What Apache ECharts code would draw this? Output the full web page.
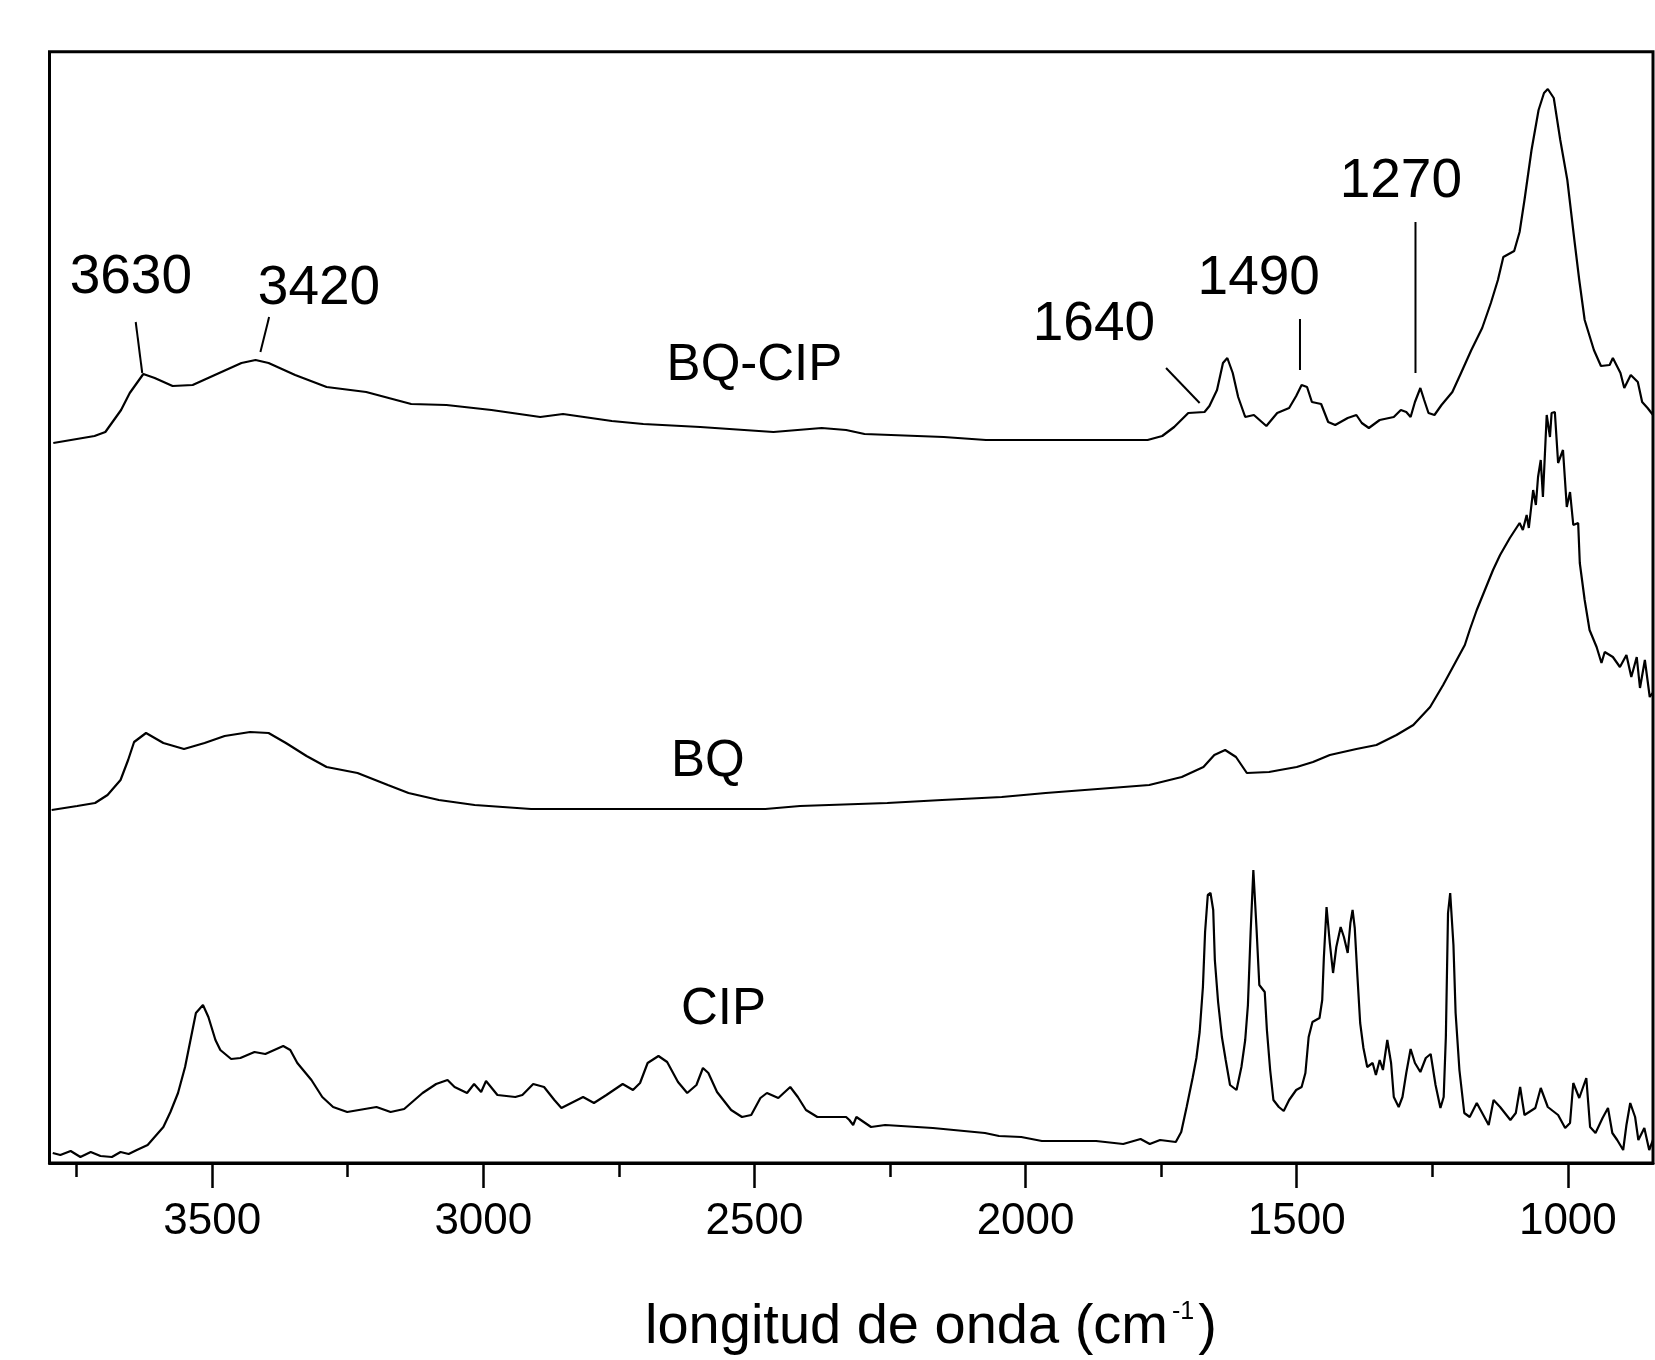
<!DOCTYPE html>
<html><head><meta charset="utf-8">
<script src="https://cdn.jsdelivr.net/npm/echarts@6/dist/echarts.min.js"></script>
<style>html,body{margin:0;padding:0;background:#fff}#c{width:1655px;height:1360px}</style>
</head><body><div id="c"></div>
<script>
// x: wavenumber (cm-1), y: relative absorbance (arbitrary units, curves offset)
const xMajorTicks = [3500, 3000, 2500, 2000, 1500, 1000];
const xMinorTicks = [3750, 3250, 2750, 2250, 1750, 1250];

const cip = [
[3794,0.010],[3780,0.008],[3761,0.012],[3743,0.006],[3724,0.011],[3706,0.007],[3685,0.006],[3669,0.011],[3654,0.009],[3639,0.013],
[3619,0.018],[3590,0.036],[3577,0.051],[3563,0.070],[3550,0.096],[3540,0.123],[3530,0.150],[3517,0.158],[3507,0.146],[3494,0.123],
[3485,0.113],[3465,0.104],[3448,0.105],[3422,0.111],[3402,0.109],[3369,0.117],[3356,0.113],[3343,0.100],[3317,0.083],[3297,0.066],
[3277,0.056],[3251,0.051],[3197,0.056],[3171,0.051],[3146,0.054],[3112,0.070],[3087,0.079],[3066,0.083],[3053,0.076],[3030,0.070],
[3017,0.079],[3004,0.071],[2995,0.082],[2974,0.068],[2941,0.066],[2928,0.068],[2908,0.079],[2888,0.076],[2869,0.063],[2856,0.055],
[2816,0.066],[2796,0.060],[2773,0.068],[2743,0.079],[2724,0.073],[2711,0.080],[2697,0.100],[2677,0.107],[2661,0.101],[2641,0.081],
[2624,0.070],[2607,0.078],[2595,0.095],[2585,0.090],[2569,0.071],[2543,0.053],[2523,0.046],[2506,0.048],[2489,0.065],[2477,0.070],
[2456,0.065],[2434,0.076],[2420,0.066],[2405,0.053],[2384,0.046],[2331,0.046],[2325,0.043],[2318,0.038],[2312,0.046],[2285,0.036],
[2259,0.038],[2171,0.035],[2075,0.030],[2049,0.027],[2008,0.026],[1970,0.022],[1870,0.022],[1820,0.019],[1788,0.024],[1771,0.019],
[1752,0.023],[1723,0.021],[1713,0.031],[1703,0.056],[1692,0.085],[1685,0.105],[1679,0.131],[1673,0.176],[1669,0.231],[1664,0.268],
[1659,0.270],[1654,0.253],[1651,0.203],[1645,0.161],[1638,0.126],[1631,0.103],[1623,0.078],[1611,0.073],[1602,0.096],[1595,0.123],
[1590,0.158],[1585,0.231],[1580,0.293],[1574,0.233],[1569,0.178],[1559,0.171],[1555,0.133],[1549,0.093],[1543,0.063],[1533,0.056],
[1524,0.052],[1514,0.063],[1501,0.073],[1491,0.076],[1484,0.090],[1478,0.126],[1471,0.141],[1458,0.145],[1453,0.163],[1450,0.205],
[1445,0.256],[1439,0.220],[1433,0.190],[1427,0.216],[1419,0.236],[1413,0.226],[1406,0.210],[1401,0.240],[1397,0.253],[1393,0.235],
[1388,0.186],[1383,0.140],[1377,0.115],[1370,0.096],[1360,0.100],[1354,0.088],[1347,0.103],[1341,0.093],[1333,0.123],[1326,0.100],
[1321,0.066],[1312,0.056],[1305,0.066],[1298,0.090],[1290,0.114],[1282,0.100],[1272,0.091],[1262,0.105],[1253,0.109],[1244,0.078],
[1235,0.055],[1229,0.066],[1225,0.126],[1221,0.250],[1217,0.270],[1211,0.218],[1207,0.150],[1200,0.093],[1191,0.050],[1181,0.046],
[1168,0.060],[1158,0.050],[1146,0.038],[1137,0.063],[1125,0.056],[1106,0.043],[1096,0.050],[1088,0.076],[1080,0.048],[1060,0.055],
[1050,0.075],[1037,0.056],[1018,0.048],[1005,0.035],[996,0.040],[990,0.080],[979,0.065],[966,0.085],[959,0.036],[949,0.030],
[936,0.045],[926,0.055],[918,0.030],[909,0.023],[898,0.013],[892,0.038],[885,0.060],[876,0.046],[870,0.023],[859,0.035],
[850,0.013],[843,0.023]
];

const bq = [
[3796,0.353],[3749,0.357],[3716,0.360],[3693,0.368],[3669,0.383],[3655,0.403],[3644,0.421],[3622,0.430],[3590,0.420],[3552,0.414],
[3514,0.420],[3477,0.427],[3430,0.431],[3396,0.430],[3364,0.420],[3326,0.407],[3289,0.396],[3232,0.390],[3176,0.378],[3138,0.370],
[3082,0.363],[3016,0.358],[2912,0.354],[2480,0.354],[2416,0.357],[2255,0.360],[2154,0.363],[2044,0.366],[1963,0.370],[1843,0.375],
[1772,0.378],[1712,0.386],[1672,0.396],[1652,0.408],[1632,0.413],[1612,0.406],[1592,0.390],[1551,0.391],[1531,0.393],[1500,0.396],
[1470,0.401],[1439,0.408],[1390,0.414],[1353,0.418],[1316,0.428],[1285,0.438],[1254,0.456],[1230,0.478],[1208,0.500],[1190,0.518],
[1181,0.533],[1168,0.553],[1153,0.573],[1138,0.593],[1125,0.608],[1107,0.625],[1089,0.640],[1083,0.633],[1076,0.648],[1072,0.635],
[1064,0.673],[1059,0.658],[1055,0.686],[1050,0.703],[1046,0.666],[1039,0.748],[1033,0.726],[1030,0.750],[1024,0.751],[1018,0.700],
[1009,0.713],[1002,0.656],[996,0.671],[990,0.638],[981,0.640],[978,0.600],[969,0.563],[960,0.533],[947,0.516],[938,0.500],
[932,0.511],[917,0.506],[904,0.496],[892,0.508],[883,0.486],[873,0.506],[867,0.475],[858,0.503],[849,0.466],[844,0.470]
];

const bqcip = [
[3793,0.720],[3717,0.727],[3697,0.731],[3668,0.753],[3652,0.770],[3627,0.789],[3606,0.785],[3573,0.777],[3536,0.778],[3487,0.790],
[3446,0.800],[3420,0.803],[3396,0.800],[3347,0.788],[3289,0.776],[3216,0.771],[3133,0.759],[3068,0.758],[2985,0.753],[2895,0.746],[2853,0.749],
[2763,0.742],[2705,0.739],[2600,0.736],[2465,0.731],[2376,0.735],[2331,0.733],[2297,0.729],[2151,0.726],[2073,0.723],[1775,0.723],
[1748,0.727],[1726,0.736],[1700,0.750],[1670,0.751],[1661,0.757],[1647,0.773],[1636,0.800],[1628,0.805],[1618,0.790],[1608,0.766],
[1595,0.746],[1579,0.748],[1556,0.737],[1536,0.750],[1514,0.755],[1501,0.767],[1491,0.778],[1481,0.776],[1472,0.761],[1455,0.759],
[1442,0.741],[1429,0.738],[1406,0.745],[1390,0.748],[1380,0.740],[1367,0.735],[1347,0.743],[1321,0.746],[1308,0.753],[1298,0.751],
[1290,0.746],[1282,0.761],[1272,0.775],[1265,0.763],[1257,0.750],[1246,0.748],[1233,0.758],[1213,0.771],[1197,0.790],[1178,0.813],
[1158,0.835],[1142,0.860],[1129,0.883],[1119,0.906],[1099,0.912],[1089,0.931],[1080,0.963],[1067,1.013],[1054,1.053],[1044,1.070],
[1037,1.074],[1026,1.065],[1014,1.023],[1001,0.983],[988,0.923],[979,0.883],[969,0.843],[952,0.813],[939,0.797],[923,0.798],
[917,0.805],[903,0.790],[896,0.775],[884,0.788],[871,0.781],[863,0.761],[853,0.755],[843,0.748]
];

// peak annotations: [x, y, text]
const peakLabels = [[3650,0.885,'3630'],[3303,0.874,'3420'],[1874,0.838,'1640'],[1570,0.884,'1490'],[1308,0.981,'1270']];
const curveNames = [[2500,0.797,'BQ-CIP'],[2586,0.401,'BQ'],[2557,0.153,'CIP']];
const leaderLines = [
  [[3641,0.841],[3629,0.790]],
  [[3395,0.846],[3411,0.811]],
  [[1741,0.795],[1679,0.760]],
  [[1494,0.844],[1494,0.793]],
  [[1281,0.941],[1281,0.790]]
];

const FONT = '"Liberation Sans", Arial, sans-serif';
const lineSeries = (name, data) => ({
  name, type: 'line', data, showSymbol: false, symbol: 'none',
  lineStyle: { color: '#000', width: 2.2 }, animation: false, silent: true
});
const series = [lineSeries('BQ-CIP', bqcip), lineSeries('BQ', bq), lineSeries('CIP', cip)];
leaderLines.forEach((l, i) => series.push(Object.assign(lineSeries('lead' + i, l), { lineStyle: { color: '#000', width: 2 } })));
const labelSeries = (data, size) => ({
  type: 'scatter', symbolSize: 0, data, animation: false, silent: true,
  itemStyle: { opacity: 1, color: '#000' },
  label: { show: true, position: 'inside', formatter: p => p.data[2], fontSize: size, color: '#000',
    opacity: 1, fontFamily: FONT, textBorderWidth: 0 }
});
series.push(labelSeries(peakLabels, 55));
series.push(labelSeries(curveNames, 51));

const chart = echarts.init(document.getElementById('c'), null, { renderer: 'canvas' });
chart.setOption({
  animation: false,
  backgroundColor: '#fff',
  textStyle: { fontFamily: FONT },
  title: {
    text: 'longitud de onda (cm{sup|-1})',
    left: 640, top: 1295,
    textStyle: { fontSize: 56, fontWeight: 'normal', color: '#000', fontFamily: FONT,
      rich: { sup: { fontSize: 25, verticalAlign: 'top', color: '#000', fontFamily: FONT, padding: [0, 4, 28, 4] } } }
  },
  grid: { left: 49.5, right: 2, top: 51.7, bottom: 197, show: true, borderColor: '#000', borderWidth: 3, containLabel: false },
  xAxis: [{
    type: 'value', min: 843, max: 3800, inverse: true, position: 'bottom',
    axisLine: { show: true, lineStyle: { color: '#000', width: 3 } },
    axisTick: { show: true, inside: false, length: 25, customValues: xMajorTicks, lineStyle: { color: '#000', width: 2.5 } },
    axisLabel: { show: true, customValues: xMajorTicks, margin: 37, fontSize: 44, color: '#000', fontFamily: FONT,
      formatter: v => String(v) },
    splitLine: { show: false }
  }, {
    type: 'value', min: 843, max: 3800, inverse: true, position: 'bottom',
    axisLine: { show: false },
    axisTick: { show: true, inside: false, length: 14, customValues: xMinorTicks, lineStyle: { color: '#000', width: 2.5 } },
    axisLabel: { show: false },
    splitLine: { show: false }
  }],
  yAxis: { type: 'value', min: 0, max: 1.1113, show: false, splitLine: { show: false } },
  series
});
</script></body></html>
